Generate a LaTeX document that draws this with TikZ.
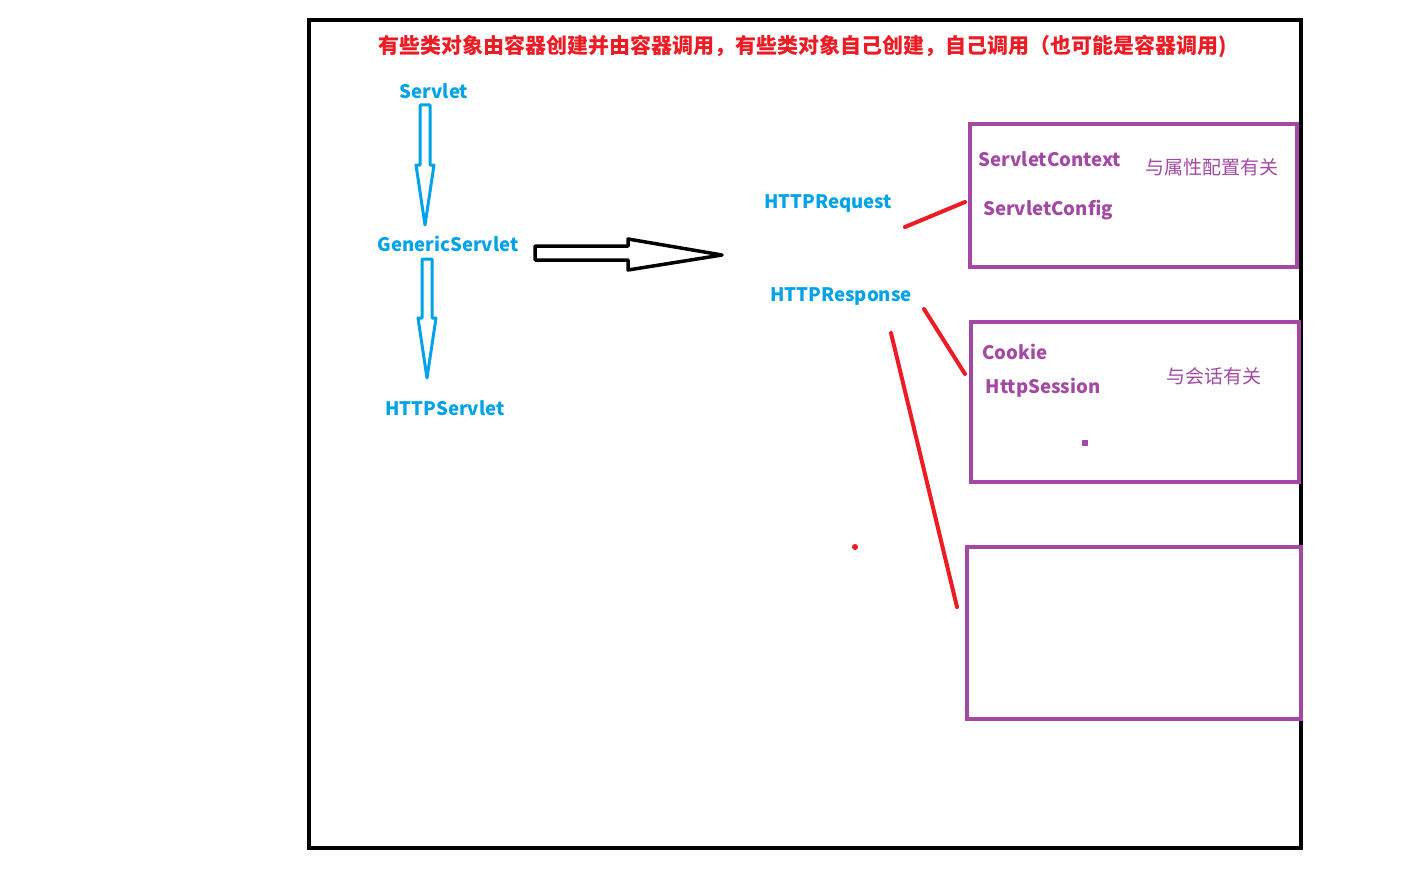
\documentclass[tikz,border=0pt]{standalone}
\usepackage{fontspec}
\setmainfont{Noto Sans CJK SC}
\definecolor{pblue}{HTML}{00A2E8}
\definecolor{pred}{HTML}{ED1C24}
\definecolor{ppurple}{HTML}{A349A4}
\begin{document}
\begin{tikzpicture}[x=1pt,y=-1pt,
  bluetxt/.style={text=pblue,font=\bfseries\fontsize{18.6}{22}\selectfont,inner sep=0pt},
  purptxt/.style={text=ppurple,font=\bfseries\fontsize{18.6}{22}\selectfont,inner sep=0pt},
  cjktxt/.style={text=ppurple,font=\fontsize{19}{22}\selectfont,inner sep=0pt},
  frame/.style={draw=black,line width=4pt},
  pbox/.style={draw=ppurple,line width=4.5pt},
  hollowblue/.style={draw=pblue,line width=3pt,line join=round},
  hollowblack/.style={draw=black,line width=3.5pt,line join=round},
  redline/.style={draw=pred,line width=4pt,line cap=round}]
\useasboundingbox (0,0) rectangle (1413,880);
\fill[white] (0,0) rectangle (1413,880);
% outer frame
\draw[frame] (309,20) rectangle (1301,848);
% title
\node[text=pred,font=\bfseries\fontsize{21}{24}\selectfont,inner sep=0pt] (title) at (803,47) {有些类对象由容器创建并由容器调用，有些类对象自己创建，自己调用（也可能是容器调用)};
% left column
\node[bluetxt] (servlet) at (434,91) {Servlet};
\node[bluetxt] (generic) at (448,244) {GenericServlet};
\node[bluetxt] (http) at (445,408) {HTTPServlet};
\coordinate (a1top) at (425,105);
\coordinate (a2top) at (427,259);
\draw[hollowblue] ([xshift=-5pt]a1top) -- ++(10,0) -- ++(0,60) -- ++(4,0) -- (425,225) -- (416,165) -- ++(4,0) -- cycle;
\draw[hollowblue] ([xshift=-5pt]a2top) -- ++(10,0) -- ++(0,59) -- ++(4,0) -- (427,378) -- (418,318) -- ++(4,0) -- cycle;
% black hollow arrow
\coordinate (barrow) at (535,253);
\draw[hollowblack] (535,246) -- (628,246) -- (628,239) -- (722,255) -- (628,270) -- (628,260) -- (535,260) -- cycle;
% middle texts
\node[bluetxt] (req) at (828,203) {HTTPRequest};
\node[bluetxt] (resp) at (841,296) {HTTPResponse};
% boxes
\draw[pbox] (970,124) rectangle (1297,267);
\draw[pbox] (971,322) rectangle (1299,482);
\draw[pbox] (967,547) rectangle (1301,719);
\node[purptxt] (ctx) at (1050,159) {ServletContext};
\node[purptxt] (cfg) at (1048,210) {ServletConfig};
\node[cjktxt] (attr) at (1212,167) {与属性配置有关};
\node[purptxt] (cookie) at (1015,352) {Cookie};
\node[purptxt] (sess) at (1043,388) {HttpSession};
\node[cjktxt] (conv) at (1214,376) {与会话有关};
\fill[ppurple] (1082,440) rectangle (1088,446);
% red connectors
\coordinate (r1a) at (905,227);
\coordinate (r1b) at (965,202);
\coordinate (r2a) at (924,309);
\coordinate (r2b) at (965,374);
\coordinate (r3a) at (891,333);
\coordinate (r3b) at (957,607);
\draw[redline] (r1a) -- (r1b);
\draw[redline] (r2a) -- (r2b);
\draw[redline] (r3a) -- (r3b);
\fill[pred] (855,547) circle (3);
\end{tikzpicture}
\end{document}
